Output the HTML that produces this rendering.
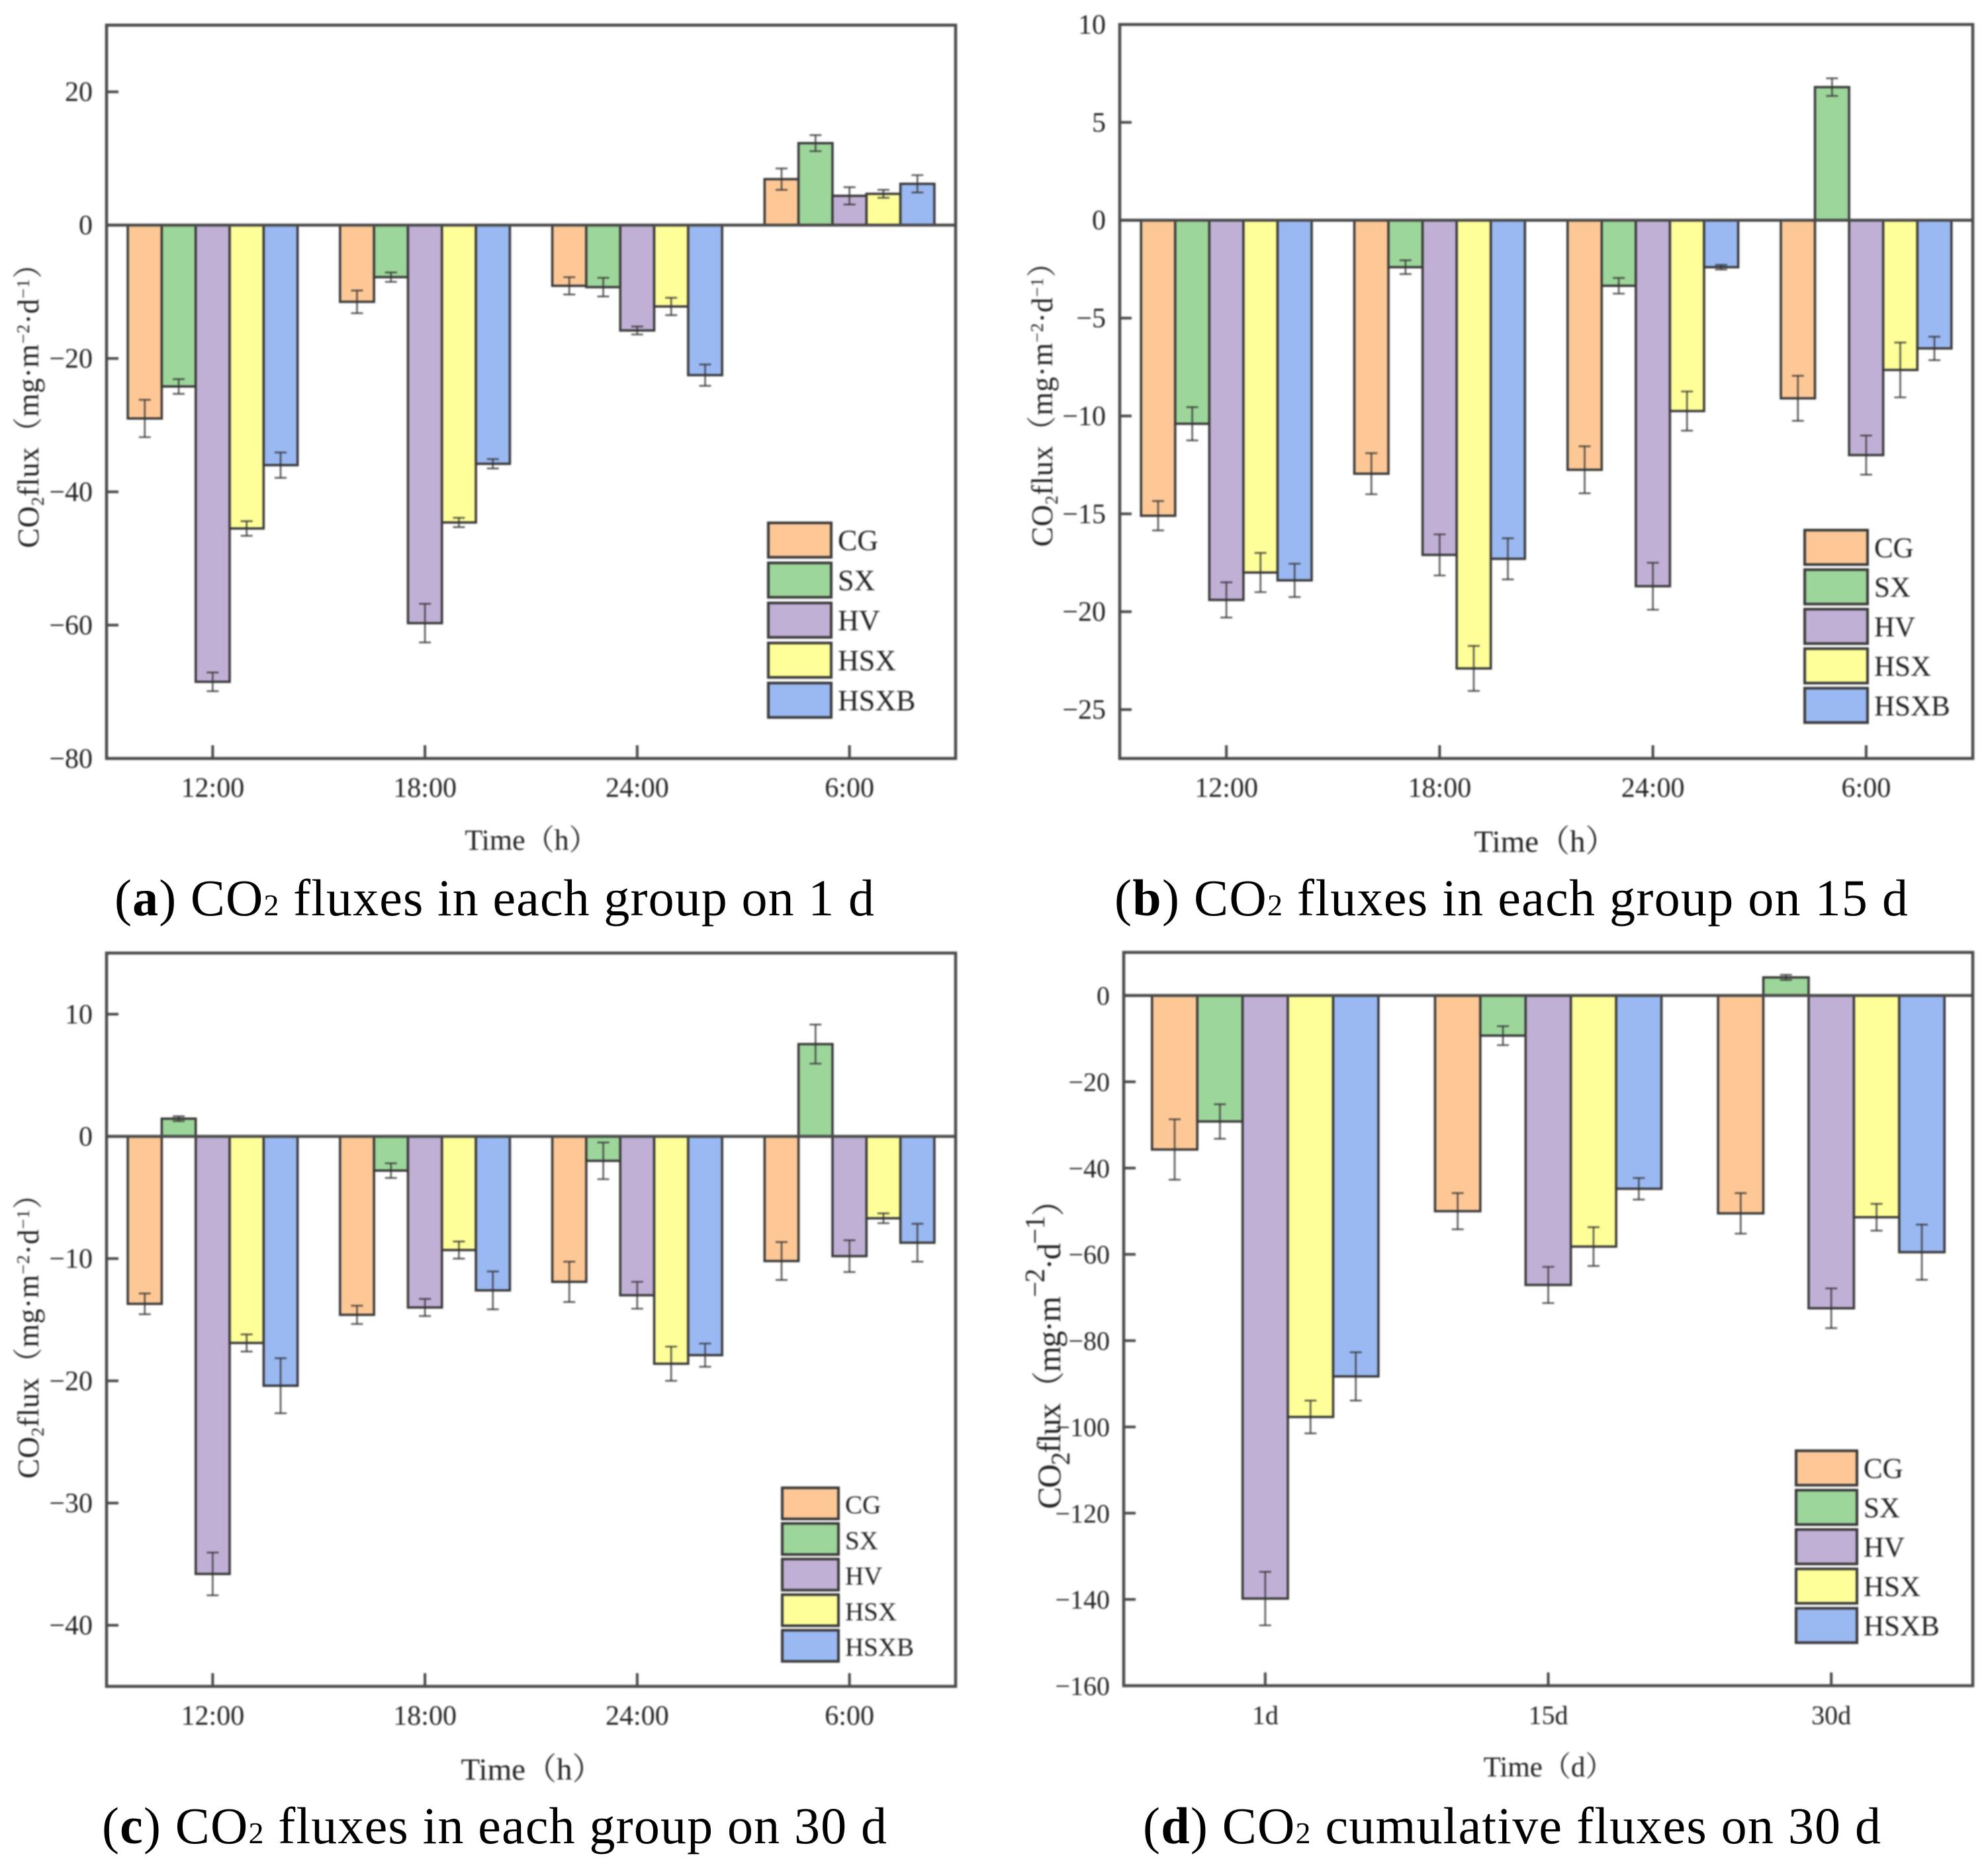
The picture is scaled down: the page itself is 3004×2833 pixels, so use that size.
<!DOCTYPE html>
<html lang="en">
<head>
<meta charset="utf-8">
<title>CO2 flux charts</title>
<style>
html,body{margin:0;padding:0;background:#fff;}
svg{display:block;}
text{font-family:"Liberation Serif","Noto Serif CJK SC",serif;}
.cap{font-size:78px;fill:#000;}
.cap tspan.b{font-weight:bold;}
.cap tspan.s{font-size:46px;}
.plot{filter:blur(1px);}
</style>
</head>
<body>
<svg id="figure" width="3004" height="2833" viewBox="0 0 3004 2833" xmlns="http://www.w3.org/2000/svg">
<rect x="0" y="0" width="3004" height="2833" fill="#fff"/>
<g id="plots"></g>
<text class="cap" x="173" y="1383" textLength="1148">(<tspan class="b">a</tspan>) CO<tspan class="s">2</tspan> fluxes in each group on 1 d</text>
<text class="cap" x="1684" y="1383" textLength="1199">(<tspan class="b">b</tspan>) CO<tspan class="s">2</tspan> fluxes in each group on 15 d</text>
<text class="cap" x="154" y="2785" textLength="1186">(<tspan class="b">c</tspan>) CO<tspan class="s">2</tspan> fluxes in each group on 30 d</text>
<text class="cap" x="1727" y="2785" textLength="1115">(<tspan class="b">d</tspan>) CO<tspan class="s">2</tspan> cumulative fluxes on 30 d</text>
</svg>
<script>
const seriesNames = ["CG","SX","HV","HSX","HSXB"];
const seriesColors = ["#FDC896","#9DD69A","#C1B0D6","#FFFF99","#9AB8F2"];
const hourLabels = ["12:00","18:00","24:00","6:00"];
const dayLabels = ["1d","15d","30d"];

// Panel a
const aTicks = [20,0,-20,-40,-60,-80];
const aDomain = [-80,30];
const aCG = [-29,-11.5,-9.1,6.9];
const aSX = [-24.2,-7.8,-9.3,12.3];
const aHV = [-68.5,-59.7,-15.8,4.4];
const aHSX = [-45.5,-44.6,-12.2,4.7];
const aHSXB = [-36,-35.8,-22.5,6.2];
const aCGerr = [2.8,1.7,1.3,1.6];
const aSXerr = [1.1,0.7,1.4,1.2];
const aHVerr = [1.4,2.9,0.6,1.3];
const aHSXerr = [1.1,0.7,1.3,0.6];
const aHSXBerr = [1.9,0.7,1.6,1.3];

// Panel b
const bTicks = [10,5,0,-5,-10,-15,-20,-25];
const bDomain = [-27.5,10];
const bCG = [-15.1,-12.95,-12.75,-9.1];
const bSX = [-10.4,-2.4,-3.35,6.8];
const bHV = [-19.4,-17.1,-18.7,-12];
const bHSX = [-18,-22.9,-9.75,-7.65];
const bHSXB = [-18.4,-17.3,-2.4,-6.55];
const bCGerr = [0.75,1.05,1.2,1.15];
const bSXerr = [0.85,0.35,0.4,0.45];
const bHVerr = [0.9,1.05,1.2,1];
const bHSXerr = [1,1.15,1,1.4];
const bHSXBerr = [0.85,1.05,0.12,0.6];

// Panel c
const cTicks = [10,0,-10,-20,-30,-40];
const cDomain = [-45,15];
const cCG = [-13.7,-14.6,-11.9,-10.2];
const cSX = [1.45,-2.8,-2,7.55];
const cHV = [-35.8,-14,-13,-9.8];
const cHSX = [-16.9,-9.3,-18.6,-6.7];
const cHSXB = [-20.4,-12.6,-17.9,-8.7];
const cCGerr = [0.85,0.75,1.65,1.55];
const cSXerr = [0.2,0.6,1.5,1.6];
const cHVerr = [1.75,0.7,1.1,1.3];
const cHSXerr = [0.7,0.7,1.4,0.4];
const cHSXBerr = [2.25,1.55,0.95,1.55];

// Panel d
const dTicks = [0,-20,-40,-60,-80,-100,-120,-140,-160];
const dDomain = [-160,10];
const dCG = [-35.7,-50,-50.5];
const dSX = [-29.2,-9.3,4.2];
const dHV = [-139.8,-67.1,-72.5];
const dHSX = [-97.7,-58.2,-51.4];
const dHSXB = [-88.3,-44.8,-59.5];
const dCGerr = [7,4.2,4.7];
const dSXerr = [4,2.2,0.6];
const dHVerr = [6.2,4.2,4.6];
const dHSXerr = [3.8,4.5,3.1];
const dHSXBerr = [5.6,2.5,6.4];

const NS = "http://www.w3.org/2000/svg";
const root = document.getElementById("plots");

function mk(parent, tag, attrs) {
  const el = document.createElementNS(NS, tag);
  for (const k in attrs) el.setAttribute(k, attrs[k]);
  parent.appendChild(el);
  return el;
}
function fmt(v) { return String(v).replace("-", "\u2212"); }

function drawPanel(p) {
  const g = mk(root, "g", {"class":"plot"});
  
  

  const xBand = (p.right - p.left) / p.categories.length;
  const xCenter = i => p.left + xBand * (i + 0.5);
  const barW = xBand * 0.16;
  const y = v => p.bottom - (v - p.domain[0]) / (p.domain[1] - p.domain[0]) * (p.bottom - p.top);

  // bars
  p.values.forEach((vals, s) => {
    vals.forEach((v, i) => {
      const x0 = xCenter(i) + (s - 2.5) * barW;
      const rect = mk(g, "rect", {x:x0, y:Math.min(y(0), y(v)), width:barW, height:Math.abs(y(v)-y(0)), fill:seriesColors[s], stroke:"#383838", "stroke-width":3.5});
      
      
    });
  });
  // error bars
  p.values.forEach((vals, s) => {
    vals.forEach((v, i) => {
      const cx = xCenter(i) + (s - 2) * barW;
      const e = p.errors[s][i];
      const eg = mk(g, "g", {stroke:"#333", "stroke-width":2.6, "stroke-opacity":0.8});
      
      
      mk(eg, "line", {x1:cx, x2:cx, y1:y(v+e), y2:y(v-e)});
      mk(eg, "line", {x1:cx-9, x2:cx+9, y1:y(v+e), y2:y(v+e)});
      mk(eg, "line", {x1:cx-9, x2:cx+9, y1:y(v-e), y2:y(v-e)});
    });
  });
  // zero line
  const zero = mk(g, "line", {x1:p.left, x2:p.right, y1:y(0), y2:y(0), stroke:"#4a4a4a", "stroke-width":4.5});
  
  

  // frame
  const frame = mk(g, "rect", {x:p.left, y:p.top, width:p.right-p.left, height:p.bottom-p.top, fill:"none", stroke:"#4a4a4a", "stroke-width":4.5});
  
  

  // y ticks
  p.yTicks.forEach(t => {
    const tk = mk(g, "line", {x1:p.left, x2:p.left+18, y1:y(t), y2:y(t), stroke:"#4a4a4a", "stroke-width":4});
    
    
    const lb = mk(g, "text", {x:p.left-21, y:y(t)+14, "text-anchor":"end", "font-size":p.tickSize, fill:"#222"});
    lb.textContent = fmt(t);
    
    
  });
  // x ticks
  p.categories.forEach((c, i) => {
    const tk = mk(g, "line", {x1:xCenter(i), x2:xCenter(i), y1:p.bottom, y2:p.bottom-20, stroke:"#4a4a4a", "stroke-width":4});
    
    
    const lb = mk(g, "text", {x:xCenter(i), y:p.bottom+58, "text-anchor":"middle", "font-size":p.tickSize, fill:"#222"});
    lb.textContent = c;
    
    
  });
  // x title
  const xt = mk(g, "text", {x:p.xTitle[0], y:p.xTitle[1], "text-anchor":"middle", "font-size":p.xTitleSize, fill:"#222"});
  xt.textContent = p.xTitleText;
  
  
  // y title
  const yt = mk(g, "text", {x:p.yTitle[0], y:p.yTitle[1], transform:"rotate(-90 "+p.yTitle[0]+" "+p.yTitle[1]+")", "font-size":p.yTitleSize, textLength:p.yTitle[2], fill:"#222"});
  yt.innerHTML = 'CO<tspan dy="'+p.subDy+'" font-size="'+(p.yTitleSize*p.subScale)+'">2</tspan><tspan dy="'+(-p.subDy)+'">flux（mg·m</tspan><tspan dy="'+(-p.supDy)+'" font-size="'+(p.yTitleSize*p.supScale)+'">−2</tspan><tspan dy="'+p.supDy+'">·d</tspan><tspan dy="'+(-p.supDy)+'" font-size="'+(p.yTitleSize*p.supScale)+'">−1</tspan><tspan dy="'+p.supDy+'">）</tspan>';
  
  

  // legend
  seriesNames.forEach((name, s) => {
    const lg = mk(g, "g", {});
    
    
    const ly = p.legend.y + s * p.legend.pitch;
    mk(lg, "rect", {x:p.legend.x, y:ly, width:p.legend.w, height:p.legend.h, fill:seriesColors[s], stroke:"#3a3a3a", "stroke-width":4});
    const lt = mk(lg, "text", {x:p.legend.x+p.legend.w+10, y:ly+p.legend.h/2+15, "font-size":p.legend.size, fill:"#222"});
    lt.textContent = name;
  });
}

drawPanel({
  left:161, right:1444, top:38, bottom:1146, domain:aDomain, yTicks:aTicks, categories:hourLabels,
  values:[aCG,aSX,aHV,aHSX,aHSXB], errors:[aCGerr,aSXerr,aHVerr,aHSXerr,aHSXBerr],
  tickSize:42, yTitleSize:45, subScale:0.6, supScale:0.6, subDy:8, supDy:14, yTitle:[58,828,452], xTitle:[803,1284], xTitleSize:44, xTitleText:"Time（h）",
  legend:{x:1161,y:790,w:95,h:52,pitch:60.5,size:44}
});
drawPanel({
  left:1692, right:2981, top:37, bottom:1146, domain:bDomain, yTicks:bTicks, categories:hourLabels,
  values:[bCG,bSX,bHV,bHSX,bHSXB], errors:[bCGerr,bSXerr,bHVerr,bHSXerr,bHSXBerr],
  tickSize:42, yTitleSize:45, subScale:0.6, supScale:0.6, subDy:8, supDy:14, yTitle:[1590,826,452], xTitle:[2335,1287], xTitleSize:47, xTitleText:"Time（h）",
  legend:{x:2727,y:801,w:95,h:52,pitch:59.7,size:43}
});
drawPanel({
  left:161, right:1444, top:1440, bottom:2548, domain:cDomain, yTicks:cTicks, categories:hourLabels,
  values:[cCG,cSX,cHV,cHSX,cHSXB], errors:[cCGerr,cSXerr,cHVerr,cHSXerr,cHSXBerr],
  tickSize:42, yTitleSize:45, subScale:0.6, supScale:0.6, subDy:8, supDy:14, yTitle:[58,2234,452], xTitle:[804,2689], xTitleSize:47, xTitleText:"Time（h）",
  legend:{x:1182,y:2248,w:85,h:47,pitch:53.8,size:39}
});
drawPanel({
  left:1698, right:2981, top:1439, bottom:2547, domain:dDomain, yTicks:dTicks, categories:dayLabels,
  values:[dCG,dSX,dHV,dHSX,dHSXB], errors:[dCGerr,dSXerr,dHVerr,dHSXerr,dHSXBerr],
  tickSize:40, yTitleSize:50, subScale:0.8, supScale:0.85, subDy:14, supDy:24, yTitle:[1602,2280,492], xTitle:[2340,2684], xTitleSize:43, xTitleText:"Time（d）",
  legend:{x:2714,y:2192,w:92,h:52,pitch:59.5,size:43}
});
</script>
</body>
</html>
